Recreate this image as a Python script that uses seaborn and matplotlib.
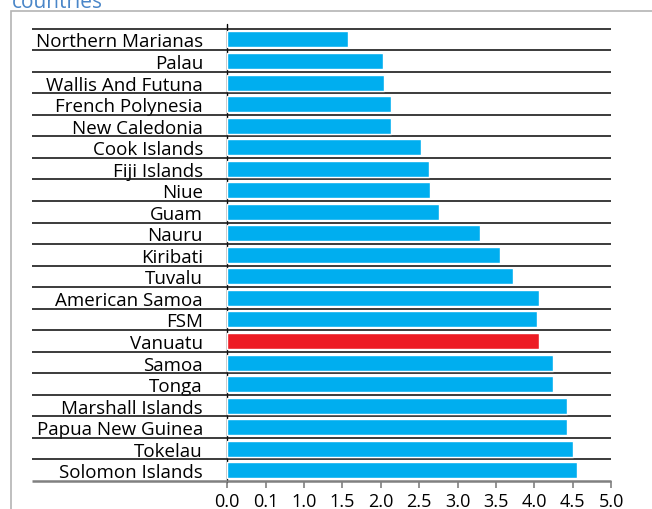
import matplotlib
matplotlib.use("Agg")
import matplotlib.pyplot as plt
import matplotlib.transforms as mtransforms
from matplotlib.patches import Rectangle
import seaborn as sns
import pandas as pd

countries = ["Northern Marianas", "Palau", "Wallis And Futuna", "French Polynesia",
             "New Caledonia", "Cook Islands", "Fiji Islands", "Niue", "Guam", "Nauru",
             "Kiribati", "Tuvalu", "American Samoa", "FSM", "Vanuatu", "Samoa", "Tonga",
             "Marshall Islands", "Papua New Guinea", "Tokelau", "Solomon Islands"]
values = [1.57, 2.03, 2.04, 2.13, 2.13, 2.52, 2.63, 2.64, 2.76, 3.29, 3.56, 3.72,
          4.06, 4.04, 4.06, 4.24, 4.24, 4.43, 4.43, 4.50, 4.56]
highlight = "Vanuatu"
tick_values = [0, 0.5, 1.0, 1.5, 2.0, 2.5, 3.0, 3.5, 4.0, 4.5, 5.0]
tick_labels = ["0.0", "0.1", "1.0", "1.5", "2.0", "2.5", "3.0", "3.5", "4.0", "4.5", "5.0"]
title = "countries"

BLUE = "#00AEEF"
RED = "#ED1C24"

sns.set_style("white")
plt.rcParams["font.family"] = ["Open Sans", "DejaVu Sans"]

W, H = 652, 510
fig = plt.figure(figsize=(W / 100, H / 100), dpi=100)
x0, x1 = 227.3, 611.0
y_top, y_bot = 29.7, 482.0
ax = fig.add_axes([x0 / W, 1 - y_bot / H, (x1 - x0) / W, (y_bot - y_top) / H])

df = pd.DataFrame({"country": countries, "value": values})
palette = {c: (RED if c == highlight else BLUE) for c in countries}
sns.barplot(data=df, x="value", y="country", hue="country", palette=palette,
            legend=False, width=0.74, ax=ax, zorder=3, saturation=1)

n = len(countries)
ax.set_xlim(0, 5)
ax.set_ylim(n - 0.5, -0.5)
ax.set_xlabel("")
ax.set_ylabel("")
for s in ax.spines.values():
    s.set_visible(False)

# row separator lines
trans = mtransforms.blended_transform_factory(ax.transAxes, ax.transData)
left_frac = (32 - x0) / (x1 - x0)
for i in range(n):
    yy = i - 0.5
    ax.plot([left_frac, 1], [yy, yy], transform=trans, color="#1a1a1a", lw=1.2,
            clip_on=False, zorder=2, solid_capstyle="butt")
# bottom axis line (gray, thicker)
ax.plot([left_frac, 1], [n - 0.5, n - 0.5], transform=trans, color="#808080", lw=1.8,
        clip_on=False, zorder=4, solid_capstyle="butt")

# vertical axis line at 0
tr2 = mtransforms.blended_transform_factory(ax.transData, ax.transAxes)
ax.plot([0, 0], [-0.002, 1 + 4.7 / (y_bot - y_top)], transform=tr2, color="black",
        lw=1.0, clip_on=False, zorder=1)

ax.set_xticks(tick_values)
ax.set_xticklabels(tick_labels, fontsize=13, color="black")
ax.tick_params(axis="x", direction="out", length=5, width=1.2, color="#808080",
               pad=3, bottom=True)
ax.tick_params(axis="y", length=0, pad=17.5)
ax.set_yticks(range(n))
ax.set_yticklabels(countries, fontsize=13.5, color="black")
ax.grid(False)

# outer border box (extends past right/bottom edges)
fig.patches.append(Rectangle((11 / W, -0.1), 1.2, 1 - 12 / H + 0.1, transform=fig.transFigure,
                             fill=False, edgecolor="#b4b4b4", lw=1.2))

fig.text(12 / W, 1 - 8 / H, title, color="#4a86c8", fontsize=15, ha="left",
         va="baseline")

fig.savefig("out.png", dpi=100)
